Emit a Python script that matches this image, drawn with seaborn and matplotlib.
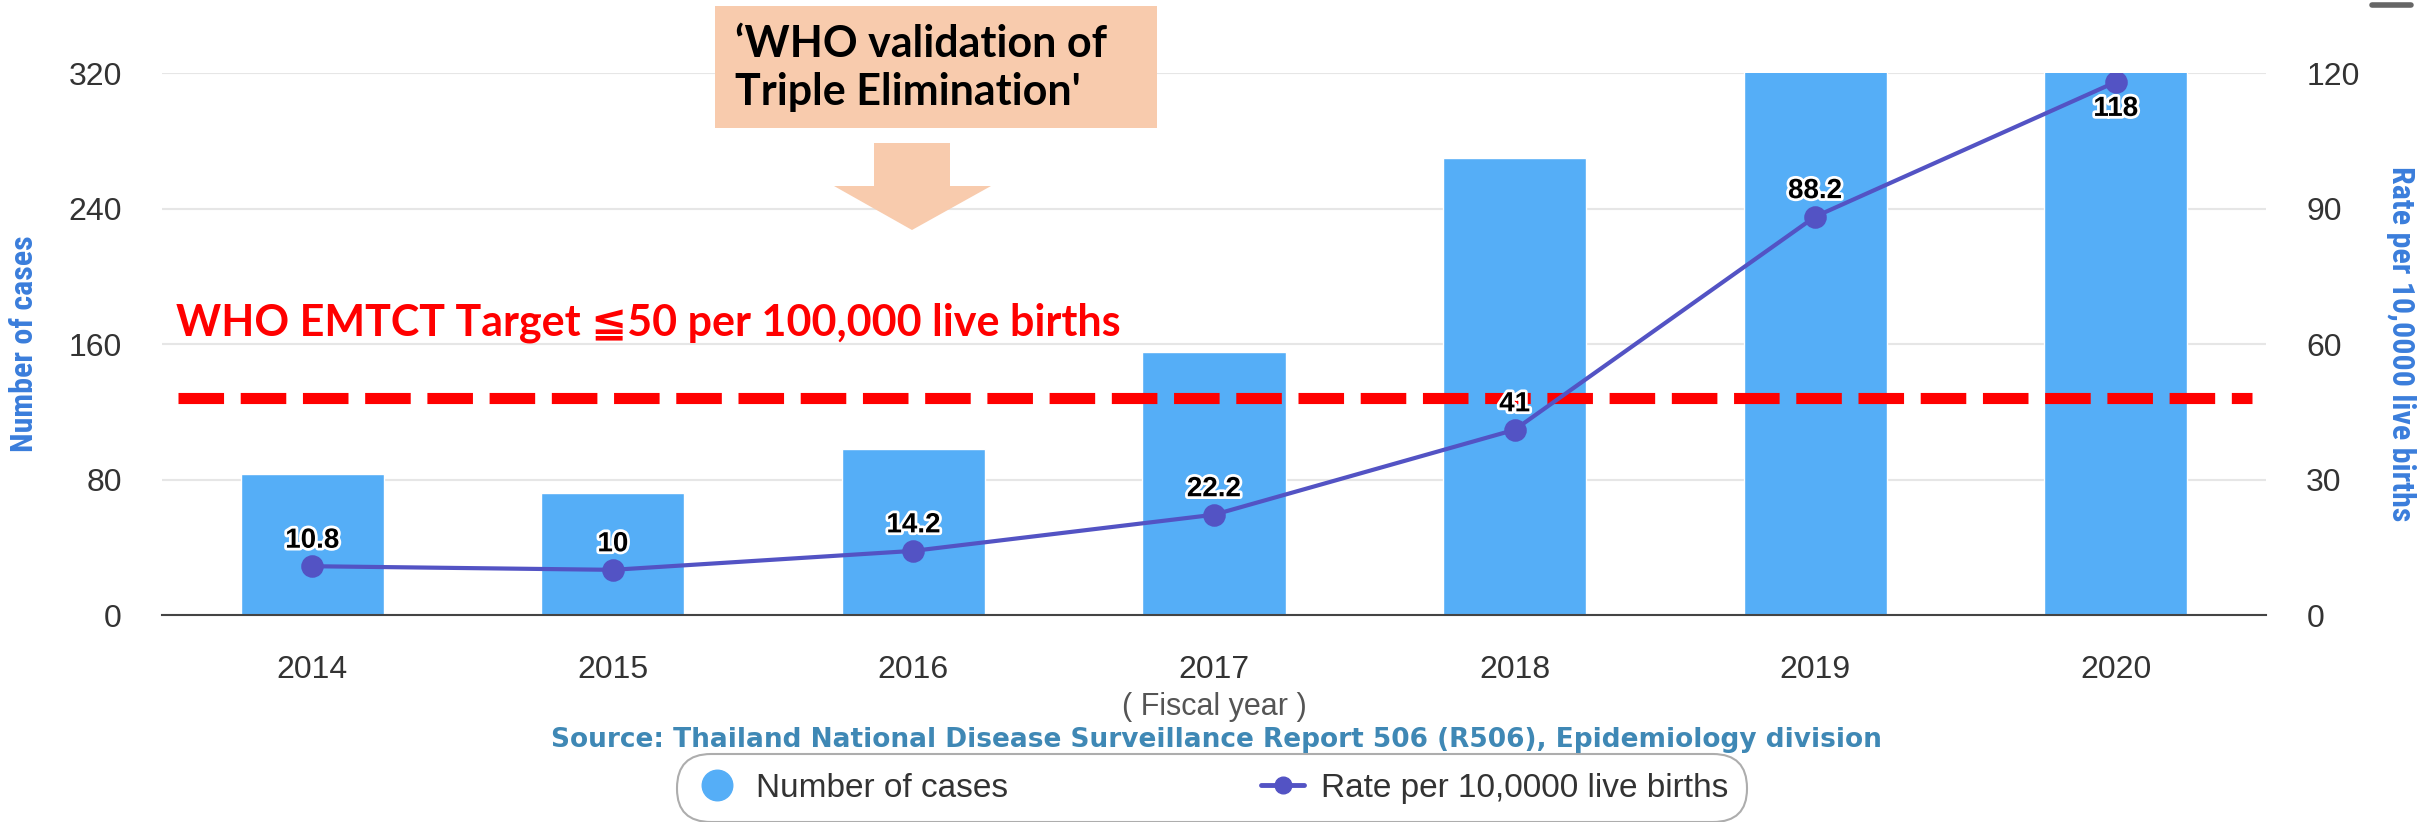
import matplotlib
matplotlib.use('Agg')
import matplotlib.pyplot as plt
from matplotlib import font_manager
from matplotlib.lines import Line2D
from matplotlib.patches import Rectangle, Polygon
import matplotlib.patheffects as pe
import seaborn as sns

years = ['2014', '2015', '2016', '2017', '2018', '2019', '2020']
# 2019 and 2020 bars run past the top of the axis (clipped at 320)
cases = [83, 72, 98, 155, 270, 565, 730]
rate = [10.8, 10, 14.2, 22.2, 41, 88.2, 118]
target_rate = 48
left_ticks = [0, 80, 160, 240, 320]
right_ticks = [0, 30, 60, 90, 120]

bar_color = '#55AEF7'
line_color = '#5353C4'
label_blue = '#3A7DDB'
tick_color = '#333333'

sns.set_style('white')
plt.rcParams['font.family'] = ['Liberation Sans', 'DejaVu Sans']


def pick_font(names):
    for name in names:
        try:
            font_manager.findfont(name, fallback_to_default=False)
            return name
        except Exception:
            continue
    return 'DejaVu Sans'


narrow = pick_font(['Liberation Sans Narrow', 'Roboto Condensed', 'Open Sans Condensed', 'Roboto'])
humanist = pick_font(['Lato', 'Open Sans', 'Noto Sans'])

W, H = 2435, 822
fig = plt.figure(figsize=(W / 100, H / 100), dpi=100)
ax = fig.add_axes([162 / W, 1 - 615 / H, (2266 - 162) / W, 542 / H])

sns.barplot(x=years, y=cases, color=bar_color, saturation=1, width=0.476, ax=ax, zorder=2)
ax.set_ylim(0, 320)
ax.set_yticks(left_ticks)
ax.yaxis.grid(True, color='#e6e6e6', lw=1.5)
ax.set_axisbelow(True)
for s in ['top', 'left', 'right']:
    ax.spines[s].set_visible(False)
ax.spines['bottom'].set_color('#444444')
ax.spines['bottom'].set_linewidth(1.5)
ax.tick_params(axis='both', length=0, pad=29, labelsize=23, colors=tick_color)

ax2 = ax.twinx()
sns.pointplot(x=years, y=rate, color=line_color, errorbar=None, ax=ax2,
              markersize=14, linewidth=3, zorder=5)
ax2.set_ylim(0, 120)
ax2.set_yticks(right_ticks)
ax2.grid(False)
for s in ax2.spines.values():
    s.set_visible(False)
ax2.tick_params(axis='y', length=0, pad=29, labelsize=23, colors=tick_color)
ax.set_xlim(-0.5, 6.5)

# WHO target dashed line
ax2.axhline(target_rate, xmin=(178 - 162) / 2104, xmax=(2252 - 162) / 2104,
            color='red', lw=8, dashes=(4.1, 1.5), zorder=3)

# data labels
for i, v in enumerate(rate):
    if i == len(rate) - 1:
        off, va = -10, 'top'
    else:
        off, va = 9, 'bottom'
    ax2.annotate(f'{v:g}', xy=(i, v), xytext=(0, off), textcoords='offset points',
                 ha='center', va=va, fontsize=20, fontweight='bold', color='black',
                 zorder=6, path_effects=[pe.withStroke(linewidth=4, foreground='white')])

ax.set_xlabel('( Fiscal year )', fontsize=22, color='#555555')
ax.xaxis.set_label_coords(0.5, -0.142)
ax.set_ylabel('Number of cases', fontsize=23, fontweight='bold', color=label_blue,
              family=[narrow, 'DejaVu Sans'])
ax.yaxis.set_label_coords(-0.0585, 0.5)
ax2.set_ylabel('Rate per 10,0000 live births', fontsize=23, fontweight='bold',
               color=label_blue, rotation=270, va='center', family=[narrow, 'DejaVu Sans'])
ax2.yaxis.set_label_coords(1.064, 0.5)

# target text
fig.text(176 / W, 1 - 323 / H, 'WHO EMTCT Target \u226650 per 100,000 live births',
         color='red', fontsize=31, fontweight='bold', va='center', ha='left',
         family=[humanist, 'DejaVu Sans'])

# validation callout with arrow
peach = '#F8CBAD'
fig.patches.append(Rectangle((715 / W, 1 - 128 / H), 442 / W, 122 / H,
                             transform=fig.transFigure, facecolor=peach, edgecolor='none', zorder=4))
arrow_px = [(874, 143), (950, 143), (950, 186), (991, 186), (912, 230), (834, 186), (874, 186)]
fig.patches.append(Polygon([(x / W, 1 - y / H) for x, y in arrow_px], closed=True,
                           transform=fig.transFigure, facecolor=peach, edgecolor='none', zorder=4))
fig.text(735 / W, 1 - 68 / H, "\u2018WHO validation of\nTriple Elimination'", fontsize=31,
         fontweight='bold', color='black', va='center', ha='left', linespacing=1.22,
         family=[humanist, 'DejaVu Sans'], zorder=5)

# source
fig.text(1216 / W, 1 - 740 / H,
         'Source: Thailand National Disease Surveillance Report 506 (R506), Epidemiology division',
         fontsize=19, fontweight='bold', color='#3F88B5', ha='center', va='center',
         family='DejaVu Sans')

# legend
handles = [Line2D([], [], marker='o', ls='none', color=bar_color, markersize=22),
           Line2D([], [], marker='o', color=line_color, lw=3.5, markersize=12)]
leg = fig.legend(handles, ['Number of cases', 'Rate per 10,0000 live births'],
                 loc='center', bbox_to_anchor=(1212 / W, 1 - 788 / H), ncol=2,
                 fontsize=24, frameon=True, columnspacing=7.6, handlelength=1.3,
                 handletextpad=0.5, borderpad=0.35)
for t in leg.get_texts():
    t.set_color(tick_color)
frame = leg.get_frame()
frame.set_boxstyle('round,pad=0.2,rounding_size=1.0')
frame.set_edgecolor('#999999')
frame.set_linewidth(1.5)

# small grey dash at top right
fig.add_artist(Line2D([2372 / W, 2411 / W], [1 - 5 / H, 1 - 5 / H], color='#666666',
                      lw=4, solid_capstyle='round'))

fig.savefig('out.png', dpi=100)
